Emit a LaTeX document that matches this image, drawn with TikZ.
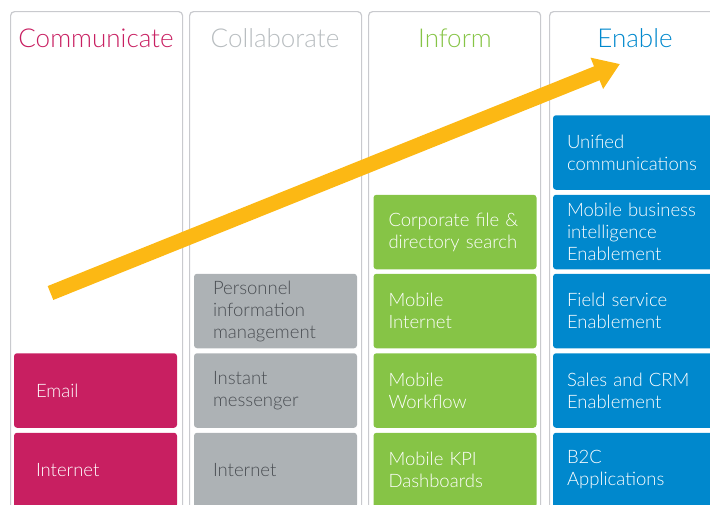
\documentclass[tikz,border=0pt]{standalone}
\usepackage{fontspec}
\setmainfont{Lato Light}
\usetikzlibrary{arrows.meta}
\definecolor{colline}{HTML}{C9CACE}
\definecolor{commpink}{HTML}{C81F61}
\definecolor{collgrey}{HTML}{ADB2B5}
\definecolor{collhead}{HTML}{B8BDC0}
\definecolor{colltext}{HTML}{4A4E53}
\definecolor{infogreen}{HTML}{86C446}
\definecolor{enabblue}{HTML}{0088CD}
\definecolor{arrowyellow}{HTML}{FCB814}

\begin{document}
\begin{tikzpicture}[x=1pt,y=-1pt,
 column/.style={draw=colline,line width=1.2pt,rounded corners=4pt,anchor=north west,inner sep=0pt,minimum width=172pt,minimum height=530pt},
 heading/.style={anchor=base,font=\fontsize{26}{30}\selectfont},
 cell/.style={rounded corners=3pt,minimum width=163pt,minimum height=74.5pt,align=left,inner ysep=0pt,font=\fontsize{18.5}{22}\selectfont},
 commbox/.style={cell,fill=commpink,text=white,inner xsep=22pt,text width=119pt},
 collbox/.style={cell,fill=collgrey,text=colltext,inner xsep=19pt,text width=125pt},
 infobox/.style={cell,fill=infogreen,text=white,inner xsep=15pt,text width=133pt},
 enabbox/.style={cell,fill=enabblue,text=white,inner xsep=14pt,text width=135pt},
 growth/.style={draw=arrowyellow,line width=15pt,-{Triangle[length=25pt,width=32pt]}}]
\useasboundingbox (0,0) rectangle (710,504);
\clip (0,0) rectangle (710,504);
% four columns
\node[column] (comm) at (10,11) {};
\node[column] (coll) at (189,11) {};
\node[column] (info) at (368,11) {};
\node[column] (enab) at (549,11) {};
\node[heading,text=commpink] (commhead) at (96,47) {Communicate};
\node[heading,text=collhead] (collhead) at (275,47) {Collaborate};
\node[heading,text=infogreen] (infohead) at (455,47) {Inform};
\node[heading,text=enabblue] (enabhead) at (635,47) {Enable};
% communicate
\node[commbox] (email) at (95.5,390.5) {Email};
\node[commbox] (commnet) at (95.5,470) {Internet};
% collaborate
\node[collbox] (pim) at (275.5,311) {Personnel\\information\\management};
\node[collbox] (im) at (275.5,390.5) {Instant\\messenger};
\node[collbox] (collnet) at (275.5,470) {Internet};
% inform
\node[infobox] (search) at (455,232) {Corporate file \&\\directory search};
\node[infobox] (mobnet) at (455,311) {Mobile\\Internet};
\node[infobox] (workflow) at (455,390.5) {Mobile\\Workflow};
\node[infobox] (kpi) at (455,470) {Mobile KPI\\Dashboards};
% enable
\node[enabbox] (uc) at (634.5,152.5) {Unified\\communications};
\node[enabbox] (mbi) at (634.5,232) {Mobile business\\intelligence\\Enablement};
\node[enabbox] (field) at (634.5,311) {Field service\\Enablement};
\node[enabbox] (crm) at (634.5,390.5) {Sales and CRM\\Enablement};
\node[enabbox] (b2c) at (634.5,470) {B2C\\Applications};
% rising arrow
\coordinate (tail) at (50.5,293);
\coordinate (tip) at (620,64);
\draw[growth] (tail) -- (tip);
\end{tikzpicture}
\end{document}
